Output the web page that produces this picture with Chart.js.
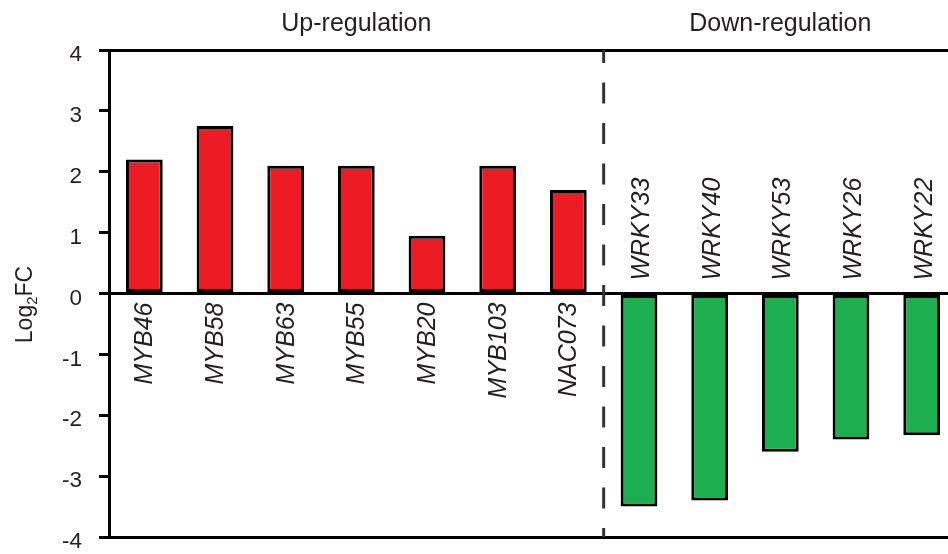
<!DOCTYPE html>
<html>
<head>
<meta charset="utf-8">
<script src="https://cdn.jsdelivr.net/npm/chart.js@4.4.1/dist/chart.umd.min.js"></script>
<style>
  html, body { margin: 0; padding: 0; background: #fff; overflow: hidden; }
  #wrap { width: 948px; height: 554px; overflow: hidden; position: relative; }
  canvas { display: block; }
</style>
</head>
<body>
<div id="wrap"><canvas id="chart" width="970" height="554"></canvas></div>
<script>
// Transcription factor genes and their log2 fold change
const genes = ['MYB46', 'MYB58', 'MYB63', 'MYB55', 'MYB20', 'MYB103', 'NAC073',
               'WRKY33', 'WRKY40', 'WRKY53', 'WRKY26', 'WRKY22'];
const log2FC = [2.2, 2.75, 2.1, 2.1, 0.95, 2.1, 1.7, -3.5, -3.4, -2.6, -2.4, -2.33];

// Group headings and how many genes each group spans
const groupNames = ['Up-regulation', 'Down-regulation'];
const groupSizes = [7, 5];

// Value axis range and step
const yMin = -4, yMax = 4, yStep = 1;

const UP_COLOR = '#ED1C24';
const DOWN_COLOR = '#1DAF4F';
const INK = '#231F20';
const FONT = '"Liberation Sans", Arial, Helvetica, sans-serif';

const annotations = {
  id: 'annotations',
  afterDatasetsDraw(chart) {
    const { ctx, chartArea, scales } = chart;
    const x = scales.x, y = scales.y;
    const y0 = y.getPixelForValue(0);

    // Dashed separator between the two groups
    const sepX = (x.getPixelForValue(groupSizes[0] - 1) + x.getPixelForValue(groupSizes[0])) / 2;
    ctx.save();
    ctx.strokeStyle = '#333';
    ctx.lineWidth = 3;
    ctx.setLineDash([21, 19.5]);
    ctx.lineDashOffset = 8;
    ctx.beginPath();
    ctx.moveTo(sepX, chartArea.top);
    ctx.lineTo(sepX, chartArea.bottom);
    ctx.stroke();
    ctx.restore();

    // Gene names, rotated, on the side of the zero line opposite the bar
    ctx.save();
    ctx.fillStyle = INK;
    ctx.font = 'italic 25px ' + FONT;
    ctx.textBaseline = 'middle';
    genes.forEach((g, i) => {
      const px = x.getPixelForValue(i) + 1;
      ctx.save();
      if (log2FC[i] >= 0) {
        ctx.translate(px, y0 + 9);
        ctx.rotate(-Math.PI / 2);
        ctx.textAlign = 'right';
      } else {
        ctx.translate(px + 2, y0 - 13);
        ctx.rotate(-Math.PI / 2);
        ctx.textAlign = 'left';
      }
      ctx.fillText(g, 0, 0);
      ctx.restore();
    });
    ctx.restore();

    // Group headings centred over their genes
    ctx.save();
    ctx.fillStyle = INK;
    ctx.font = '25px ' + FONT;
    ctx.textAlign = 'center';
    ctx.textBaseline = 'alphabetic';
    let start = 0;
    groupNames.forEach((name, k) => {
      const end = start + groupSizes[k] - 1;
      const cx = (x.getPixelForValue(start) + x.getPixelForValue(end)) / 2;
      ctx.fillText(name, cx, 31);
      start = end + 1;
    });
    ctx.restore();

    // Axis title: Log2FC with subscript
    ctx.save();
    ctx.fillStyle = INK;
    const big = '23px ' + FONT, small = '15px ' + FONT;
    ctx.font = big; const wLog = ctx.measureText('Log').width; const wFC = ctx.measureText('FC').width;
    ctx.font = small; const w2 = ctx.measureText('2').width;
    const total = wLog + w2 + wFC;
    ctx.translate(31.5, (chartArea.top + chartArea.bottom) / 2 + 11);
    ctx.rotate(-Math.PI / 2);
    ctx.textAlign = 'left';
    ctx.textBaseline = 'alphabetic';
    let tx = -total / 2;
    ctx.font = big; ctx.fillText('Log', tx, 0); tx += wLog;
    ctx.font = small; ctx.fillText('2', tx, 5); tx += w2;
    ctx.font = big; ctx.fillText('FC', tx, 0);
    ctx.restore();
  }
};

new Chart(document.getElementById('chart'), {
  type: 'bar',
  data: {
    labels: genes,
    datasets: [{
      data: log2FC,
      backgroundColor: ctx => (ctx.raw >= 0 ? UP_COLOR : DOWN_COLOR),
      borderColor: '#000',
      borderWidth: 3,
      borderSkipped: false,
      barPercentage: 0.52,
      categoryPercentage: 1.0
    }]
  },
  options: {
    responsive: false,
    devicePixelRatio: 1,
    animation: false,
    events: [],
    layout: { padding: { top: 50, bottom: 17, right: 13, left: 0 } },
    plugins: { legend: { display: false }, tooltip: { enabled: false }, title: { display: false } },
    scales: {
      x: {
        type: 'category',
        display: false,
        grid: { display: false }
      },
      y: {
        min: yMin,
        max: yMax,
        afterFit(scale) {
          scale.width = 109;
          scale.paddingTop = 0;
          scale.paddingBottom = 0;
        },
        ticks: {
          stepSize: yStep,
          padding: 17,
          labelOffset: 5,
          color: INK,
          font: { family: FONT, size: 22.5 }
        },
        grid: {
          drawOnChartArea: true,
          drawTicks: true,
          tickLength: 10,
          tickWidth: 3,
          tickColor: '#000',
          lineWidth: 3,
          color: ctx => (ctx.tick && (ctx.tick.value === 0 || ctx.tick.value === yMin || ctx.tick.value === yMax)) ? '#000' : 'rgba(0,0,0,0)'
        },
        border: { display: true, color: '#000', width: 3 }
      }
    }
  },
  plugins: [annotations]
});
</script>
</body>
</html>
